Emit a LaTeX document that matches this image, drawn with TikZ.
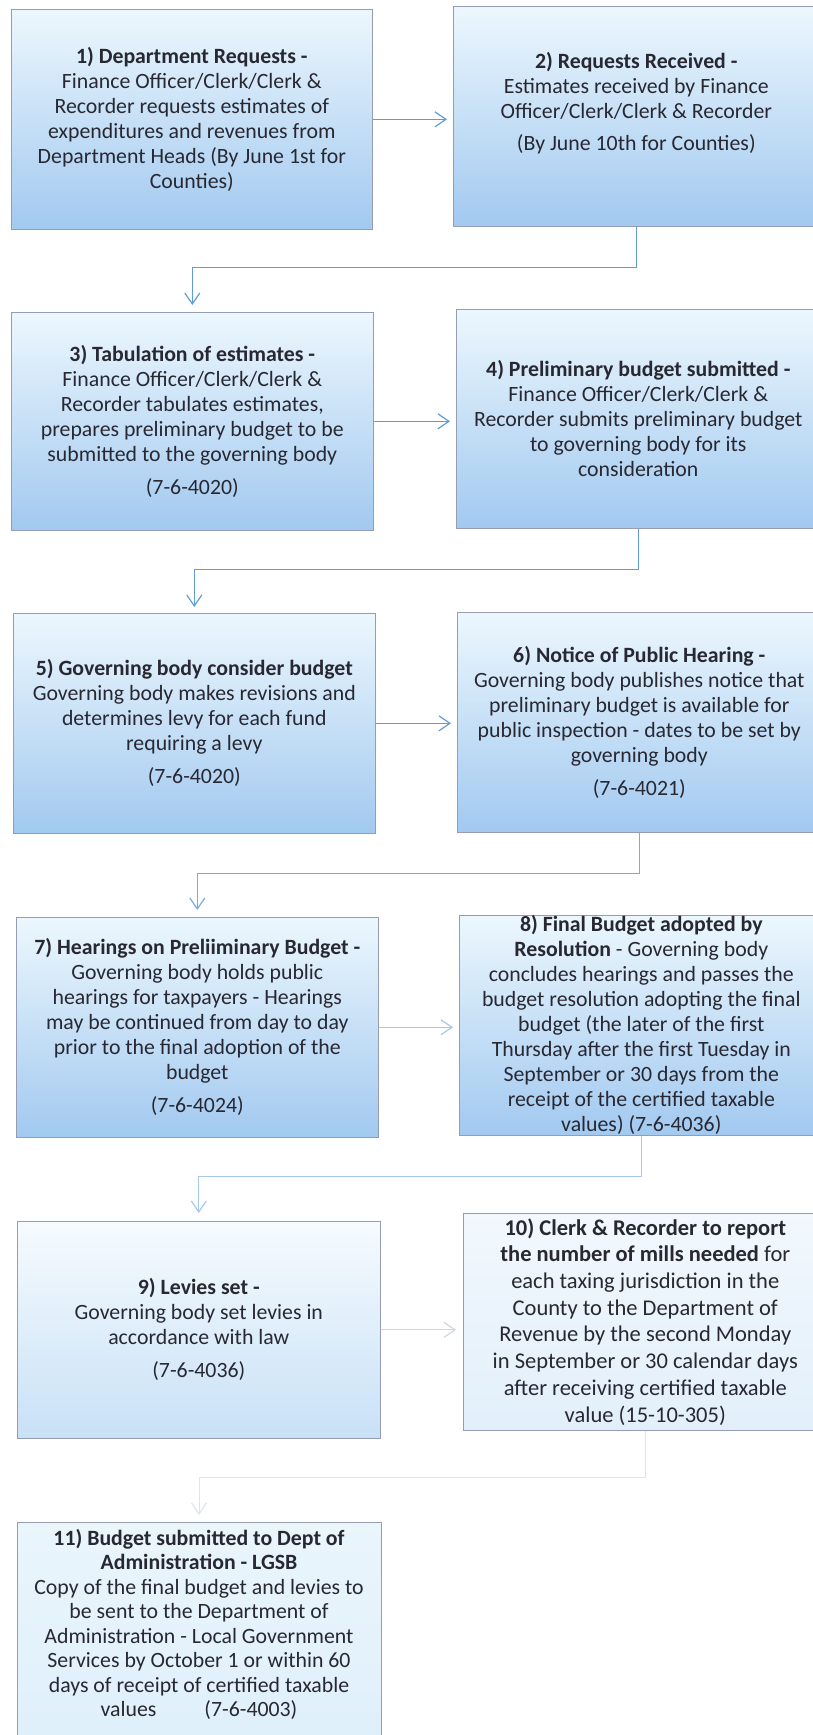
\documentclass[tikz,border=0pt]{standalone}
\usepackage{fontspec}
\setmainfont{Carlito}
\usetikzlibrary{arrows.meta,shadings}
\definecolor{boxtop}{RGB}{236,247,253}
\definecolor{boxbot}{RGB}{162,201,240}
\definecolor{bordc}{RGB}{150,156,178}
\definecolor{arrc}{RGB}{96,156,216}
\definecolor{arrb}{RGB}{120,172,224}
\definecolor{arrl}{RGB}{165,200,236}
\definecolor{arrf}{RGB}{205,215,226}
\definecolor{arrff}{RGB}{222,228,235}
\definecolor{txt}{RGB}{40,40,50}
\tikzset{
  box/.style={draw=bordc, line width=0.6pt, anchor=north west,
    top color=boxtop, bottom color=boxbot, align=center, inner sep=0pt,
    text=txt, font=\fontsize{21.8}{25}\selectfont},
  arr/.style={draw=arrc, line width=1.2pt, -{Straight Barb[length=11pt,width=15pt,line width=1.2pt]}},
}
\begin{document}
\begin{tikzpicture}[x=1pt,y=-1pt]
\useasboundingbox (0,0) rectangle (812,1735);
\node[box, minimum width=361, minimum height=220] (b1) at (11,9)
 {\textbf{1) Department Requests -}\\ Finance Officer/Clerk/Clerk \&\\ Recorder requests estimates of\\ expenditures and revenues from\\ Department Heads (By June 1st for\\ Counties)};
\node[box, minimum width=366, minimum height=220] (b2) at (453,6)
 {\textbf{2) Requests Received -}\\ Estimates received by Finance\\ Officer/Clerk/Clerk \& Recorder\\[7pt] (By June 10th for Counties)\\[4pt]};
\node[box, minimum width=362, minimum height=218] (b3) at (11,312)
 {\textbf{3) Tabulation of estimates -}\\ Finance Officer/Clerk/Clerk \&\\ Recorder tabulates estimates,\\ prepares preliminary budget to be\\ submitted to the governing body\\[8pt] (7-6-4020)};
\node[box, minimum width=364, minimum height=219] (b4) at (456,309)
 {\textbf{4) Preliminary budget submitted -}\\ Finance Officer/Clerk/Clerk \&\\ Recorder submits preliminary budget\\ to governing body for its\\ consideration};
\node[box, minimum width=362, minimum height=220] (b5) at (13,613)
 {\textbf{5) Governing body consider budget}\\ Governing body makes revisions and\\ determines levy for each fund\\ requiring a levy\\[8pt] (7-6-4020)};
\node[box, minimum width=364, minimum height=220] (b6) at (457,612)
 {\textbf{6) Notice of Public Hearing -}\\ Governing body publishes notice that\\ preliminary budget is available for\\ public inspection - dates to be set by\\ governing body\\[8pt] (7-6-4021)};
\node[box, minimum width=362, minimum height=220] (b7) at (16,917)
 {\textbf{7) Hearings on Preliiminary Budget -}\\ Governing body holds public\\ hearings for taxpayers - Hearings\\ may be continued from day to day\\ prior to the final adoption of the\\ budget\\[8pt] (7-6-4024)};
\node[box, minimum width=364, minimum height=220] (b8) at (459,915)
 {\textbf{8) Final Budget adopted by}\\ \textbf{Resolution} - Governing body\\ concludes hearings and passes the\\ budget resolution adopting the final\\ budget (the later of the first\\ Thursday after the first Tuesday in\\ September or 30 days from the\\ receipt of the certified taxable\\ values) (7-6-4036)};
\node[box, minimum width=363, minimum height=217, top color={rgb,255:red,246;green,251;blue,254}, bottom color={rgb,255:red,200;green,225;blue,246}] (b9) at (17,1221)
 {\textbf{9) Levies set -}\\ Governing body set levies in\\ accordance with law\\[8pt] (7-6-4036)};
\node[box, minimum width=364, minimum height=217, top color={rgb,255:red,242;green,248;blue,253}, bottom color={rgb,255:red,226;green,239;blue,250}, font=\fontsize{22.5}{26.7}\selectfont] (b10) at (463,1213)
 {\textbf{10) Clerk \& Recorder to report}\\ \textbf{the number of mills needed} for\\ each taxing jurisdiction in the\\ County to the Department of\\ Revenue by the second Monday\\ in September or 30 calendar days\\ after receiving certified taxable\\ value (15-10-305)};
\node[box, minimum width=364, minimum height=240, top color={rgb,255:red,234;green,245;blue,252}, bottom color={rgb,255:red,222;green,239;blue,250}, font=\fontsize{21.8}{24.5}\selectfont, anchor=north, text depth=0pt] (b11) at (199,1522)
 {\textbf{11) Budget submitted to Dept of}\\ \textbf{Administration - LGSB}\\ Copy of the final budget and levies to\\ be sent to the Department of\\ Administration - Local Government\\ Services by October 1 or within 60\\ days of receipt of certified taxable\\ values\hspace{48pt}(7-6-4003)\\[14pt]};
% connectors
\draw[arr, shorten >=6pt] (b1.east) -- (b1.east -| b2.west);
\draw[arr, shorten >=7pt] (b2.south) -- ++(0,41) -| (b3.north);
\draw[arr, shorten >=6pt] (b3.east) -- (b3.east -| b4.west);
\draw[arr, shorten >=6pt] (b4.south) -- ++(0,41) -| (b5.north);
\draw[arr, shorten >=6pt] (b5.east) -- (b5.east -| b6.west);
\draw[arr, draw=arrb, shorten >=7pt] (b6.south) -- ++(0,41) -| (b7.north);
\draw[arr, draw=arrl, shorten >=6pt] (b7.east) -- (b7.east -| b8.west);
\draw[arr, draw=arrl, shorten >=8pt] (b8.south) -- ++(0,41) -| (b9.north);
\draw[arr, draw=arrf, line width=0.8pt, shorten >=7pt] (b9.east) -- (b9.east -| b10.west);
\draw[arr, draw=arrff, line width=0.8pt, shorten >=7pt] (b10.south) -- ++(0,47) -| (b11.north);
\end{tikzpicture}
\end{document}
